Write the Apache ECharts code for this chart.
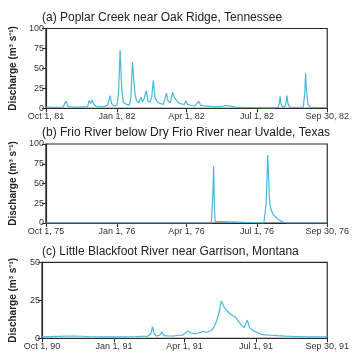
<!DOCTYPE html>
<html>
<head>
<meta charset="utf-8">
<script src="https://cdn.jsdelivr.net/npm/echarts@6/dist/echarts.min.js"></script>
<style>
  html, body { margin: 0; padding: 0; background: #ffffff; }
  #chart { width: 352px; height: 354px; }
</style>
</head>
<body>
<div id="chart"></div>
<script>
// Water-year tick positions (days since Oct 1) shared by all three panels
const tickDays = [0, 92, 182, 273, 364];
const tickLabelsA = ['Oct 1, 81', 'Jan 1, 82', 'Apr 1, 82', 'Jul 1, 82', 'Sep 30, 82'];
const tickLabelsB = ['Oct 1, 75', 'Jan 1, 76', 'Apr 1, 76', 'Jul 1, 76', 'Sep 30, 76'];
const tickLabelsC = ['Oct 1, 90', 'Jan 1, 91', 'Apr 1, 91', 'Jul 1, 91', 'Sep 30, 91'];

const titles = [
  '(a) Poplar Creek near Oak Ridge, Tennessee',
  '(b) Frio River below Dry Frio River near Uvalde, Texas',
  '(c) Little Blackfoot River near Garrison, Montana'
];

// (a) Poplar Creek, WY 1982 — day of water year, discharge (m³/s)
const daysA = [0, 10, 22, 24, 26, 28, 31, 45, 54, 56, 58, 60, 62, 65, 75, 80, 83, 85, 88, 92,
  94, 96, 98, 100, 104, 108, 110, 112, 113, 115, 117, 120, 123, 125, 127, 130, 132, 135, 137, 139,
  141, 144, 148, 152, 156, 158, 161, 164, 166, 168, 171, 175, 179, 181, 183, 188, 193, 198, 200, 205,
  212, 220, 228, 232, 234, 236, 240, 242, 245, 255, 265, 280, 295, 300, 302, 303, 304, 306, 309, 311,
  312, 313, 315, 325, 333, 335, 336, 337, 339, 342, 350, 364];
const flowA = [1.5, 1.2, 1.5, 4, 9, 3, 1.8, 1.5, 2, 10, 6, 10.5, 5, 2.5, 2, 4, 16, 6, 3, 3.5,
  20, 73, 25, 8, 5, 4, 15, 58, 45, 20, 10, 7, 14, 8, 12, 22, 9, 8, 15, 35,
  14, 8, 6, 5, 19, 9, 7, 20, 14, 12, 7, 5.5, 5, 9.5, 5, 3.5, 3, 9, 4, 3,
  2.5, 2, 2, 3.5, 5, 3, 2.5, 3, 1.5, 1.2, 1, 0.8, 0.8, 1, 6, 15, 6, 1.5, 2, 8,
  16, 7, 1.5, 1, 1.5, 20, 44, 25, 5, 1.5, 1, 1];

// (b) Frio River, WY 1976
const daysB = [0, 214, 215, 216, 217, 218, 219, 220, 282, 283, 285, 287, 288, 289, 290, 292, 295,
  299, 303, 308, 312, 364];
const flowB = [0, 0, 2, 35, 72, 20, 2, 0, 0, 2, 25, 86, 60, 35, 22, 15, 10,
  6, 3, 1, 0, 0];

// (c) Little Blackfoot River, WY 1991
const daysC = [0, 20, 40, 60, 80, 100, 120, 135, 139, 141, 143, 146, 150, 153, 156, 162, 168, 175,
  179, 183, 186, 189, 195, 200, 205, 210, 216, 219, 222, 225, 229, 233, 238, 243, 247, 251, 254,
  258, 262, 265, 268, 272, 276, 280, 285, 292, 300, 310, 325, 340, 364];
const flowC = [1, 1.3, 1.5, 1.2, 1, 1, 1.2, 1.4, 3, 7.6, 3, 1.5, 2, 4, 1.8, 1.5, 1.5, 2,
  2, 3.5, 4.8, 3.8, 3, 3.5, 4.5, 4, 5, 7, 10, 15, 24.5, 20, 17, 15, 14, 11, 9,
  7, 12, 7, 5.5, 4.5, 3.5, 2.6, 2.2, 2, 1.7, 1.4, 1.2, 1, 1];

const panels = [
  { days: daysA, flow: flowA, labels: tickLabelsA, top: 28.5, height: 79.8, max: 100 },
  { days: daysB, flow: flowB, labels: tickLabelsB, top: 144, height: 79, max: 100 },
  { days: daysC, flow: flowC, labels: tickLabelsC, top: 262.3, height: 76, max: 50 }
];

const ink = '#2b2b2b';
const lineBlue = '#4ab8da';
const font = 'Liberation Sans, Arial, sans-serif';

const option = {
  animation: false,
  backgroundColor: '#ffffff',
  title: titles.map((t, i) => ({
    text: t,
    left: 42,
    top: panels[i].top - 17,
    padding: 0,
    textStyle: { fontFamily: font, fontSize: 12, fontWeight: 'normal', color: '#222' }
  })),
  grid: panels.map(p => ({
    left: 42, width: 288, top: p.top, height: p.height,
    show: true, borderColor: ink, borderWidth: 1.2, backgroundColor: 'transparent'
  })),
  xAxis: panels.map((p, i) => ({
    type: 'value',
    gridIndex: i,
    min: 0,
    max: 364,
    splitLine: { show: false },
    axisLine: { show: true, onZero: false, lineStyle: { color: ink, width: 1.2 } },
    axisTick: { show: true, customValues: tickDays, length: 4, lineStyle: { color: ink } },
    axisLabel: {
      customValues: tickDays,
      fontFamily: font, fontSize: 9, color: '#333', margin: 4,
      formatter: v => p.labels[tickDays.indexOf(v)] ?? ''
    }
  })),
  yAxis: panels.map((p, i) => ({
    type: 'value',
    gridIndex: i,
    min: 0,
    max: p.max,
    interval: 25,
    name: 'Discharge (m³ s⁻¹)',
    nameLocation: 'middle',
    nameRotate: 90,
    nameGap: 24,
    nameTextStyle: { fontFamily: font, fontSize: 10, fontWeight: 'bold', color: '#222' },
    splitLine: { show: false },
    axisLine: { show: true, lineStyle: { color: ink, width: 1.2 } },
    axisTick: { show: true, length: 4, lineStyle: { color: ink } },
    axisLabel: { fontFamily: font, fontSize: 9, color: '#333', margin: 2 }
  })),
  series: panels.map((p, i) => ({
    type: 'line',
    xAxisIndex: i,
    yAxisIndex: i,
    data: p.days.map((d, k) => [d, p.flow[k]]),
    showSymbol: false,
    smooth: false,
    lineStyle: { color: lineBlue, width: 1.2 }
  }))
};

const chart = echarts.init(document.getElementById('chart'), null, { renderer: 'canvas' });
chart.setOption(option);
</script>
</body>
</html>
